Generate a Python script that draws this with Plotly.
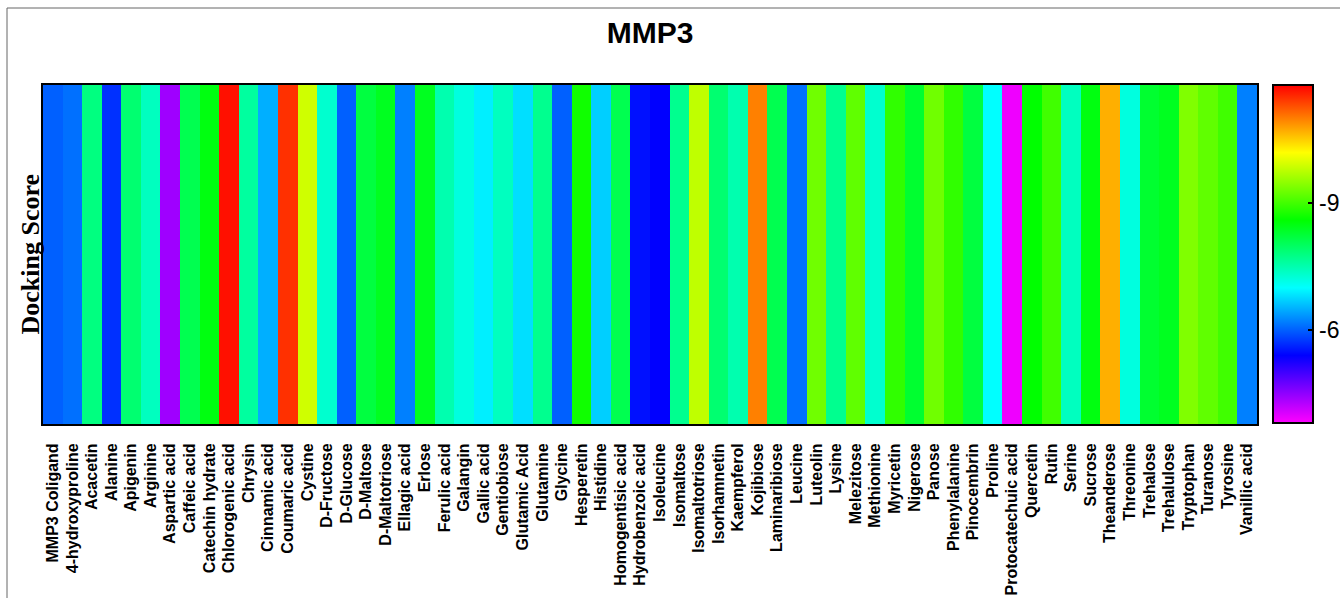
import plotly.graph_objects as go

compounds = [
    "MMP3 Coligand", "4-hydroxyproline", "Acacetin", "Alanine", "Apigenin", "Arginine",
    "Aspartic acid", "Caffeic acid", "Catechin hydrate", "Chlorogenic acid", "Chrysin",
    "Cinnamic acid", "Coumaric acid", "Cystine", "D-Fructose", "D-Glucose", "D-Maltose",
    "D-Maltotriose", "Ellagic acid", "Erlose", "Ferulic acid", "Galangin", "Gallic acid",
    "Gentiobiose", "Glutamic Acid", "Glutamine", "Glycine", "Hesperetin", "Histidine",
    "Homogentisic acid", "Hydrobenzoic acid", "Isoleucine", "Isomaltose", "Isomaltotriose",
    "Isorhamnetin", "Kaempferol", "Kojibiose", "Laminaribiose", "Leucine", "Luteolin",
    "Lysine", "Melezitose", "Methionine", "Myricetin", "Nigerose", "Panose",
    "Phenylalanine", "Pinocembrin", "Proline", "Protocatechuic acid", "Quercetin", "Rutin",
    "Serine", "Sucrose", "Theanderose", "Threonine", "Trehalose", "Trehalulose",
    "Tryptophan", "Turanose", "Tyrosine", "Vanillic acid",
]

docking_scores = [
    -6.0, -6.1, -7.8, -5.7, -7.9, -7.4,
    -4.4, -8.1, -8.5, -11.7, -7.6,
    -6.5, -11.5, -9.9, -7.3, -6.0, -8.2,
    -8.4, -6.2, -8.4, -7.5, -7.2, -6.9,
    -7.4, -6.8, -7.7, -6.0, -8.7, -6.7,
    -8.1, -5.5, -5.4, -7.7, -9.8,
    -7.9, -7.5, -11.0, -8.1, -6.1, -9.3,
    -7.7, -9.2, -7.3, -8.9, -8.3, -9.3,
    -8.9, -8.2, -7.0, -3.9, -8.6, -9.0,
    -7.4, -8.5, -10.7, -7.2, -8.3, -8.4,
    -9.4, -9.2, -9.0, -6.2,
]

score_min = -11.8
score_max = -3.8
cbar_tick_vals = [-9, -6]
cbar_tick_text = ["-9", "-6"]

# The colorbar in the reference runs from the most negative score at the top
# down to the least negative at the bottom, so plot the magnitude.
z_mag = [[-v for v in docking_scores]]

colorscale = [
    [0.0, "#ff00ff"],
    [0.2, "#0000ff"],
    [0.4, "#00ffff"],
    [0.6, "#00ff00"],
    [0.8, "#ffff00"],
    [1.0, "#ff0000"],
]

W, H = 1340, 598
L, R, T, B = 43, 83, 85, 174
pw = W - L - R
ph = H - T - B

fig = go.Figure(
    go.Heatmap(
        z=z_mag,
        x=compounds,
        y=["Docking Score"],
        customdata=[docking_scores],
        hovertemplate="%{x}: %{customdata}<extra></extra>",
        colorscale=colorscale,
        zmin=-score_max,
        zmax=-score_min,
        colorbar=dict(
            x=(1273 - L) / pw,
            xanchor="left",
            xpad=0,
            y=1.0,
            yanchor="top",
            ypad=0,
            len=338,
            lenmode="pixels",
            thickness=40,
            outlinewidth=2,
            outlinecolor="black",
            tickvals=[-v for v in cbar_tick_vals],
            ticktext=cbar_tick_text,
            ticks="inside",
            ticklen=6,
            tickwidth=2,
            tickcolor="black",
            tickfont=dict(family="Arial, Liberation Sans", size=23, color="black"),
        ),
    )
)

fig.update_layout(
    width=W,
    height=H,
    margin=dict(l=L, r=R, t=T, b=B, autoexpand=False),
    paper_bgcolor="white",
    plot_bgcolor="white",
    title=dict(
        text="<b>MMP3</b>",
        x=(650) / W,
        xanchor="center",
        y=1 - 32 / H,
        yanchor="middle",
        font=dict(family="Arial, Liberation Sans", size=30, color="black"),
    ),
    xaxis=dict(
        tickmode="linear",
        dtick=1,
        tickangle=-90,
        tickfont=dict(family="Arial, Liberation Sans", size=16, color="black", weight="bold"),
        showline=True,
        mirror=True,
        linecolor="black",
        linewidth=2,
        ticks="",
        ticklabelstandoff=11,
        showgrid=False,
        automargin=False,
    ),
    yaxis=dict(
        showticklabels=False,
        showline=True,
        mirror=True,
        linecolor="black",
        linewidth=2,
        ticks="",
        showgrid=False,
        automargin=False,
    ),
    annotations=[
        dict(
            text="<b>Docking Score</b>",
            xref="paper",
            yref="paper",
            x=(30 - L) / pw,
            y=0.5,
            xanchor="center",
            yanchor="middle",
            textangle=-90,
            showarrow=False,
            font=dict(family="Liberation Serif, Times New Roman, serif", size=26, color="black"),
        )
    ],
    shapes=[
        dict(
            type="rect",
            xref="paper",
            yref="paper",
            x0=(7 - L) / pw,
            x1=(1360 - L) / pw,
            y0=(H - B - 620) / ph,
            y1=(H - B - 8) / ph,
            line=dict(color="#666666", width=1),
            fillcolor="rgba(0,0,0,0)",
            layer="below",
        )
    ],
)

fig.write_html("out.html")
